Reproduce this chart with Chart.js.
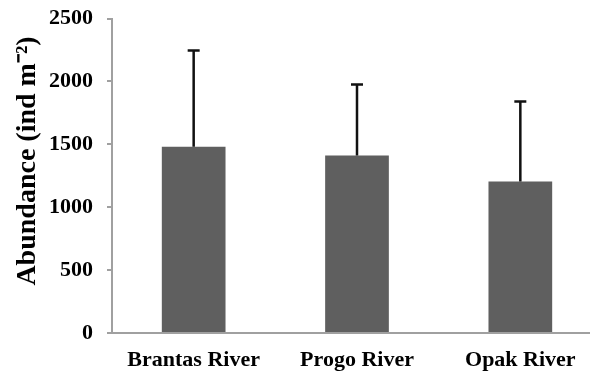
<!DOCTYPE html>
<html>
<head>
<meta charset="utf-8">
<script src="https://cdn.jsdelivr.net/npm/chart.js@4/dist/chart.umd.min.js"></script>
<style>
  html, body { margin: 0; padding: 0; background: #fff; overflow: hidden; }
  #wrap { width: 602px; height: 374px; position: relative; }
</style>
</head>
<body>
<div id="wrap"><canvas id="abundanceChart"></canvas></div>
<script>
// rivers and abundance (ind m-2), mean and upper SD
var rivers = ['Brantas River', 'Progo River', 'Opak River'];
var meanAbundance = [1480, 1410, 1205];
var sdAbundance = [765, 565, 635];
var yTicks = [0, 500, 1000, 1500, 2000, 2500];
var yTitle = 'Abundance (ind m\u207B\u00B2)';

var serif = "'Liberation Serif', 'Times New Roman', serif";

// upper error bars only, the way the figure has them
var errorBars = {
    id: 'errorBars',
    afterDatasetsDraw: (chart) => {
        const ctx = chart.ctx;
        const y = chart.scales.y;
        const meta = chart.getDatasetMeta(0);
        ctx.save();
        ctx.strokeStyle = '#111';
        ctx.lineWidth = 2.5;
        meta.data.forEach((bar, i) => {
            const top = y.getPixelForValue(meanAbundance[i] + sdAbundance[i]);
            const base = y.getPixelForValue(meanAbundance[i]);
            ctx.beginPath();
            ctx.moveTo(bar.x, base);
            ctx.lineTo(bar.x, top);
            ctx.moveTo(bar.x - 6, top);
            ctx.lineTo(bar.x + 6, top);
            ctx.stroke();
        });
        ctx.restore();
    }
};

// axis title sits a bit above the middle of the axis in the figure
var axisTitle = {
    id: 'axisTitle',
    afterDraw: (chart) => {
        const ctx = chart.ctx;
        ctx.save();
        ctx.translate(28, 161);
        ctx.rotate(-Math.PI / 2);
        ctx.font = 'bold 28px ' + serif;
        ctx.fillStyle = '#000';
        ctx.textAlign = 'center';
        ctx.textBaseline = 'middle';
        ctx.fillText(yTitle, 0, 0);
        ctx.restore();
    }
};

var chart_abundance = new Chart(document.getElementById('abundanceChart'), {
    type: 'bar',
    data: {
        labels: rivers,
        datasets: [
            {
                label: 'Abundance',
                data: meanAbundance,
                backgroundColor: '#5f5f5f',
                borderWidth: 0,
                barPercentage: 0.39,
                categoryPercentage: 1
            }
        ]
    },
    options: {
        animation: false,
        responsive: true,
        maintainAspectRatio: false,
        layout: {
            padding: { top: 18.5, right: 0, bottom: 0, left: 0 }
        },
        plugins: {
            legend: { display: false },
            tooltip: { enabled: false }
        },
        scales: {
            x: {
                grid: { display: false },
                border: { display: true, color: '#a0a0a0', width: 2 },
                ticks: {
                    color: '#000',
                    padding: 6,
                    font: { family: serif, size: 22, weight: 'bold' }
                },
                afterFit: (scale) => { scale.height = 41; }
            },
            y: {
                min: 0,
                max: 2500,
                afterBuildTicks: (scale) => {
                    scale.ticks = yTicks.map(v => ({ value: v }));
                },
                grid: {
                    drawOnChartArea: false,
                    drawTicks: true,
                    tickLength: 5,
                    color: '#a0a0a0',
                    lineWidth: 2
                },
                border: { display: true, color: '#a0a0a0', width: 2 },
                ticks: {
                    color: '#000',
                    padding: 14,
                    callback: (value) => String(value),
                    font: { family: serif, size: 22, weight: 'bold' }
                },
                afterFit: (scale) => {
                    scale.width = 112;
                    scale.paddingTop = 0;
                    scale.paddingBottom = 0;
                }
            }
        }
    },
    plugins: [errorBars, axisTitle]
});
</script>
</body>
</html>
